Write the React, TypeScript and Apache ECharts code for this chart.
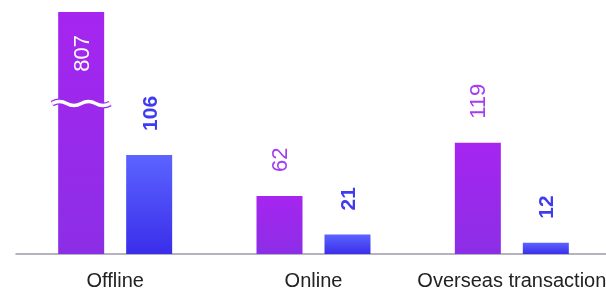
import React, { useEffect, useRef } from "react";
import * as echarts from "echarts";

const categories = ["Offline", "Online", "Overseas transaction"];
const purpleValues = [807, 62, 119];
const blueValues = [106, 21, 12];
const Y_MAX = 259;
const BREAK_AT = 161;

export default function App() {
  const ref = useRef<HTMLDivElement>(null);
  useEffect(() => {
    const chart = echarts.init(ref.current!, null, { renderer: "svg" });
    const purpleGrad = new echarts.graphic.LinearGradient(0, 0, 0, 1, [
      { offset: 0, color: "#A625F0" },
      { offset: 1, color: "#8C2EE6" },
    ]);
    const blueGrad = new echarts.graphic.LinearGradient(0, 0, 0, 1, [
      { offset: 0, color: "#5B64FF" },
      { offset: 1, color: "#3A2EEA" },
    ]);
    const font = "'Liberation Sans', Arial, Helvetica, sans-serif";
    chart.setOption({
      animation: false,
      grid: { left: 16, right: 0, top: 12, bottom: 37 },
      xAxis: {
        type: "category",
        data: categories,
        axisLine: { lineStyle: { color: "#9C9AAA", width: 1.5 } },
        axisTick: { show: false },
        axisLabel: { color: "#222", fontSize: 20, fontFamily: font, margin: 16, interval: 0 },
      },
      yAxis: { type: "value", min: 0, max: Y_MAX, show: false, splitLine: { show: false } },
      series: [
        {
          type: "bar",
          barWidth: 46,
          barGap: "47.8%",
          itemStyle: { color: purpleGrad },
          data: purpleValues.map((v) =>
            v > Y_MAX
              ? {
                  value: Y_MAX,
                  label: {
                    position: "insideTop",
                    distance: 23,
                    color: "#fff",
                    align: "right",
                    verticalAlign: "middle",
                  },
                }
              : v
          ),
          label: {
            show: true,
            position: "top",
            distance: 24,
            rotate: 90,
            align: "left",
            verticalAlign: "middle",
            color: "#A43CF0",
            fontSize: 22,
            fontFamily: font,
            formatter: (p: any) => String(purpleValues[p.dataIndex]),
          },
        },
        {
          type: "bar",
          barWidth: 46,
          itemStyle: { color: blueGrad },
          data: blueValues,
          label: {
            show: true,
            position: "top",
            distance: 24,
            rotate: 90,
            align: "left",
            verticalAlign: "middle",
            color: "#3E3BF0",
            fontSize: 21,
            fontWeight: "bold",
            fontFamily: font,
          },
        },
        {
          type: "custom",
          z: 10,
          data: [[0, BREAK_AT]],
          renderItem: (params: any, api: any) => {
            const p = api.coord([api.value(0), api.value(1)]);
            const cx = p[0] - 34;
            const cy = p[1];
            const h = 29;
            const q = h / 2;
            const d = `M ${cx - h} ${cy} Q ${cx - h + q / 2} ${cy - 4} ${cx - h + q} ${cy} T ${cx} ${cy} T ${cx + q} ${cy} T ${cx + h} ${cy}`;
            return {
              type: "group",
              children: [
                { type: "path", shape: { pathData: d }, style: { fill: "none", stroke: "#9B2BEC", lineWidth: 6 } },
                { type: "path", shape: { pathData: d }, style: { fill: "none", stroke: "#fff", lineWidth: 3.5 } },
              ],
            };
          },
        },
      ],
    });
    return () => chart.dispose();
  }, []);
  return (
    <div style={{ position: "fixed", left: 0, top: 0, width: 606, height: 291, overflow: "hidden" }}>
      <div ref={ref} style={{ width: 611, height: 291 }} />
    </div>
  );
}
